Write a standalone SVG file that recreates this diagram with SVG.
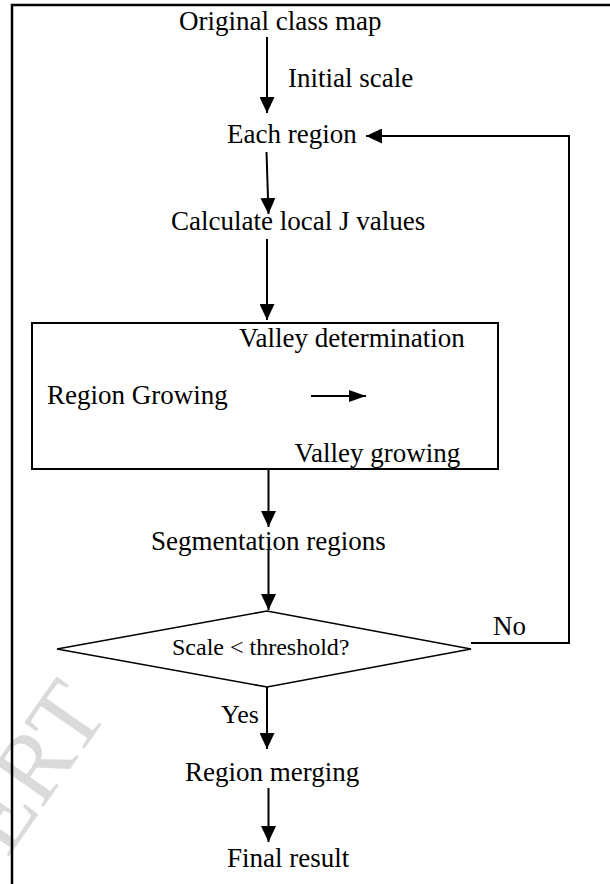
<svg xmlns="http://www.w3.org/2000/svg" width="610" height="884" viewBox="0 0 610 884">
<style>
.t{font-family:"Liberation Serif","Times New Roman",serif;font-size:27px;fill:#000}
.s{font-size:24px}
.ln{fill:none;stroke:#000;stroke-width:2}
.shape{fill:none;stroke:#000}
.wm{font-family:"Liberation Serif","Times New Roman",serif;font-size:98px;fill:#dadada}
</style>
<defs>
<marker id="ah" viewBox="0 0 16 15" refX="16" refY="7.5" markerWidth="16" markerHeight="15" markerUnits="userSpaceOnUse" orient="auto">
<path d="M0,0 L16,7.5 L0,15 z" fill="#000"/>
</marker>
<marker id="ahs" viewBox="0 0 17 12" refX="17" refY="6" markerWidth="17" markerHeight="12" markerUnits="userSpaceOnUse" orient="auto">
<path d="M0,0 L17,6 L0,12 z" fill="#000"/>
</marker>
</defs>
<rect width="610" height="884" fill="#fff"/>
<text class="wm" transform="translate(110,712) rotate(-55)" text-anchor="end">ERT</text>
<path d="M12,884 V5 H610" fill="none" stroke="#000" stroke-width="2.5"/>
<g id="original"><text class="t" x="179" y="30">Original class map</text></g>
<g id="initial-scale"><text class="t" x="288" y="87">Initial scale</text></g>
<g id="each-region"><text class="t" x="227" y="143">Each region</text></g>
<g id="calculate"><text class="t" x="171" y="230">Calculate local J values</text></g>
<g id="region-growing">
<rect class="shape" x="32" y="323" width="466" height="146" stroke-width="2"/>
<text class="t" x="239" y="347">Valley determination</text>
<text class="t" x="47" y="404">Region Growing</text>
<text class="t" x="294.5" y="462">Valley growing</text>
</g>
<g id="segmentation"><text class="t" x="151" y="550">Segmentation regions</text></g>
<g id="decision">
<polygon class="shape" points="57,649 267,611 471,649 267,687" stroke-width="1.6"/>
<text class="t s" x="172" y="655">Scale &lt; threshold?</text>
</g>
<g id="merging"><text class="t" x="185" y="781">Region merging</text></g>
<g id="final"><text class="t" x="227" y="867">Final result</text></g>
<g id="connectors">
<line class="ln" x1="267" y1="37" x2="267" y2="113" marker-end="url(#ah)"/>
<line class="ln" x1="266.5" y1="152" x2="268.5" y2="214" marker-end="url(#ah)"/>
<line class="ln" x1="267" y1="239" x2="267" y2="320" marker-end="url(#ah)"/>
<line class="ln" x1="311" y1="396" x2="366" y2="396" marker-end="url(#ahs)"/>
<line class="ln" x1="268.5" y1="469" x2="268.5" y2="527" marker-end="url(#ah)"/>
<line class="ln" x1="268.5" y1="549" x2="268.5" y2="610" marker-end="url(#ah)"/>
<polyline class="ln" points="471,643 569,643 569,136 366,136" marker-end="url(#ah)"/>
<line class="ln" x1="267" y1="687" x2="267" y2="749" marker-end="url(#ah)"/>
<line class="ln" x1="268.5" y1="788" x2="268.5" y2="842" marker-end="url(#ah)"/>
<text class="t" x="493" y="635">No</text>
<text class="t" x="221" y="723" style="font-size:26px">Yes</text>
</g>
</svg>
